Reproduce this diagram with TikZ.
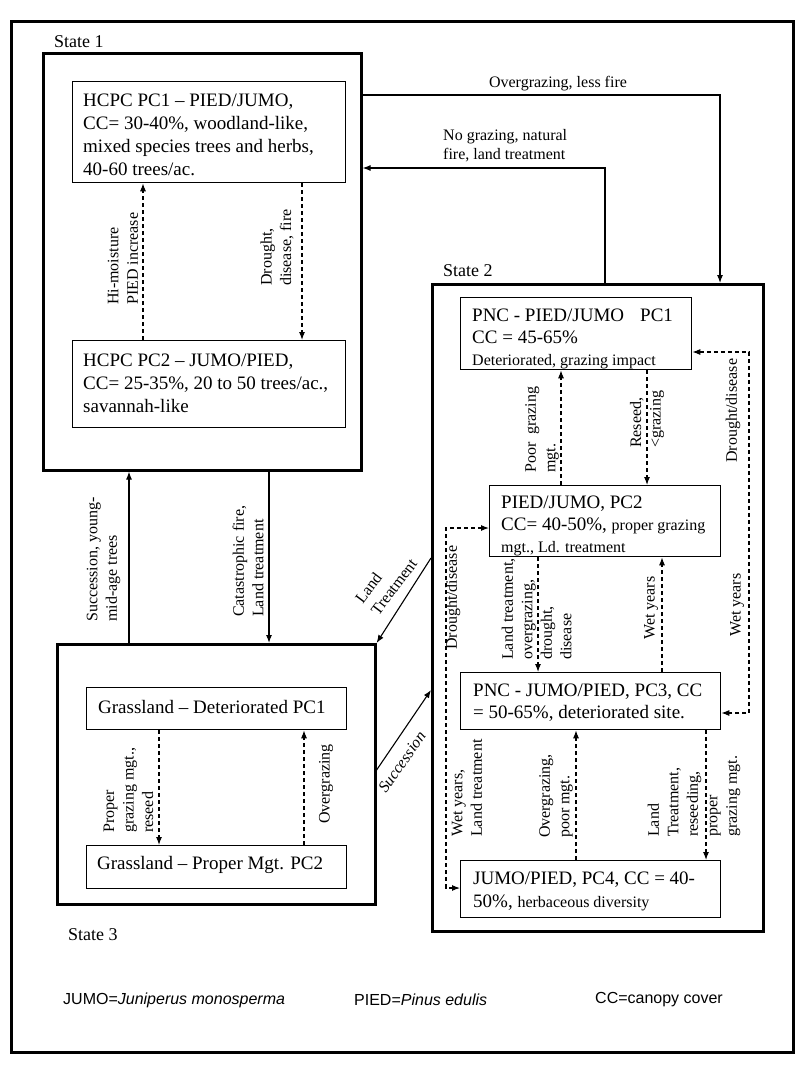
\documentclass[tikz,border=0pt]{standalone}
\usepackage{fontspec}
\setmainfont{Liberation Serif}
\setsansfont{Liberation Sans}
\usetikzlibrary{arrows.meta}
\begin{document}
\begin{tikzpicture}[x=1pt,y=-1pt,
  >={Latex[length=8pt,width=6pt]},
  box/.style={draw,line width=1.3pt,rectangle,inner sep=0pt,anchor=north west},
  statebox/.style={draw,line width=2.6pt,rectangle,inner sep=0pt,anchor=north west},
  btxt/.style={inner sep=0pt,align=left,anchor=west,font=\fontsize{19}{23}\selectfont},
  lbl/.style={inner sep=0pt,align=left,font=\fontsize{16}{19.5}\selectfont},
  vlbl/.style={lbl,rotate=90,anchor=west},
  conn/.style={line width=1.1pt,->},
  dconn/.style={conn,dash pattern=on 4pt off 3pt},
  dbl/.style={line width=1.1pt,dash pattern=on 4pt off 3pt,<->},
  statelbl/.style={inner sep=0pt,anchor=west,font=\fontsize{18}{22}\selectfont},
  legend/.style={inner sep=0pt,anchor=west,font=\sffamily\fontsize{16}{19}\selectfont}
]
\newcommand{\sm}{\fontsize{16}{19}\selectfont}
\useasboundingbox (0,0) rectangle (800,1068);
% outer frame
\node[draw,line width=3pt,rectangle,inner sep=0pt,anchor=north west,minimum width=782pt,minimum height=1031pt] (frame) at (10,20) {};
% state boxes
\node[statebox,minimum width=318pt,minimum height=417pt] (s1) at (42,52) {};
\node[statebox,minimum width=331pt,minimum height=647pt] (s2) at (431,283) {};
\node[statebox,minimum width=318pt,minimum height=260pt] (s3) at (56,643) {};
\node[statelbl] (s1l) at (54,42) {State 1};
\node[statelbl] (s2l) at (443,271) {State 2};
\node[statelbl] (s3l) at (68,935) {State 3};
% community boxes
\node[box,minimum width=273pt,minimum height=101pt] (hc1) at (72,81) {};
\node[box,minimum width=273pt,minimum height=87pt] (hc2) at (72,340) {};
\node[box,minimum width=231pt,minimum height=72pt] (p1) at (460,297) {};
\node[box,minimum width=231pt,minimum height=71pt] (p2) at (489,485) {};
\node[box,minimum width=260pt,minimum height=57pt] (p3) at (460,672) {};
\node[box,minimum width=260pt,minimum height=57pt] (p4) at (460,860) {};
\node[box,minimum width=260pt,minimum height=42pt] (g1) at (86,687) {};
\node[box,minimum width=260pt,minimum height=43pt] (g2) at (86,845) {};
% box texts
\node[btxt] (hc1t) at (83,135) {HCPC PC1 – PIED/JUMO,\\CC= 30-40\%, woodland-like,\\mixed species trees and herbs,\\40-60 trees/ac.};
\node[btxt] (hc2t) at (83,383) {HCPC PC2 – JUMO/PIED,\\CC= 25-35\%, 20 to 50 trees/ac.,\\savannah-like};
\node[btxt,font=\fontsize{19}{22}\selectfont] (p1t) at (472,339) {PNC - PIED/JUMO\hspace{16pt}PC1\\CC = 45-65\%\\{\sm Deteriorated, grazing impact}};
\node[btxt,font=\fontsize{19}{22}\selectfont] (p2t) at (501,526) {PIED/JUMO, PC2\\CC= 40-50\%, {\sm proper grazing}\\{\sm mgt., Ld. treatment}};
\node[btxt,font=\fontsize{19}{22}\selectfont] (p3t) at (473,703) {PNC - JUMO/PIED, PC3, CC\\= 50-65\%, deteriorated site.};
\node[btxt] (p4t) at (473,891) {JUMO/PIED, PC4, CC = 40-\\50\%, {\sm herbaceous diversity}};
\node[btxt] (g1t) at (98,707) {Grassland – Deteriorated PC1};
\node[btxt] (g2t) at (97,865) {Grassland – Proper Mgt. PC2};
% helper coordinates
\foreach \x in {103,129,143,159,269,302,304,446,538,561,576,605,647,662,706,720,749}
  \coordinate (c\x) at (\x,0);
\foreach \y in {95,168,352,528,558,690,713,770,888}
  \coordinate (r\y) at (0,\y);
% state 1 internal
\draw[dconn] (hc2.north -| c143) -- (hc1.south -| c143);
\draw[dconn] (hc1.south -| c302) -- (hc2.north -| c302);
% between states
\draw[conn] (s3.north -| c129) -- (s1.south -| c129);
\draw[conn] (s1.south -| c269) -- (s3.north -| c269);
\draw[conn] (s1.east |- r95) -| (s2.north -| c720);
\draw[conn] (s2.north -| c605) |- (s1.east |- r168);
\draw[conn] (s2.west |- r558) -- (s3.north east);
\draw[conn] (s3.east |- r770) -- (s2.west |- r690);
% state 2 internal
\draw[dconn] (p2.north -| c561) -- (p1.south -| c561);
\draw[dconn] (p1.south -| c647) -- (p2.north -| c647);
\draw[dbl] (p1.east |- r352) -| (c749 |- r713) -- (p3.east |- r713);
\draw[dconn] (p2.south -| c538) -- (p3.north -| c538);
\draw[dconn] (p3.north -| c662) -- (p2.south -| c662);
\draw[dbl] (p2.west |- r528) -| (c446 |- r888) -- (p4.west |- r888);
\draw[dconn] (p4.north -| c576) -- (p3.south -| c576);
\draw[dconn] (p3.south -| c706) -- (p4.north -| c706);
% state 3 internal
\draw[dconn] (g1.south -| c159) -- (g2.north -| c159);
\draw[dconn] (g2.north -| c304) -- (g1.south -| c304);
% labels
\node[vlbl] (l1) at (123,305) {Hi-moisture\\PIED increase};
\node[vlbl] (l2) at (277,286) {Drought,\\disease, fire};
\node[vlbl] (l3) at (103.5,622) {Succession, young-\\mid-age trees};
\node[vlbl] (l4) at (248,617) {Catastrophic fire,\\Land treatment};
\node[vlbl] (l5) at (128.5,833) {Proper\\grazing mgt.,\\reseed};
\node[vlbl] (l6) at (326,824) {Overgrazing};
\node[vlbl] (l7) at (542,473) {Poor\hspace{8pt}grazing\\mgt.};
\node[vlbl] (l8) at (647,448) {Reseed,\\<grazing};
\node[vlbl] (l9) at (733,463) {Drought/disease};
\node[vlbl] (l10) at (737,637) {Wet years};
\node[vlbl] (l11) at (536.75,660) {Land treatment,\\overgrazing,\\drought,\\disease};
\node[vlbl] (l12) at (651,640) {Wet years};
\node[vlbl] (l13) at (453,650) {Drought/disease};
\node[vlbl] (l14) at (467,837) {Wet years,\\Land treatment};
\node[vlbl] (l15) at (556,838) {Overgrazing,\\poor mgt.};
\node[vlbl] (l16) at (694,837) {Land\\Treatment,\\reseeding,\\proper\\grazing mgt.};
\node[lbl] (l17) at (558,84) {Overgrazing, less fire};
\node[lbl,anchor=west] (l18) at (443,145.5) {No grazing, natural\\fire, land treatment};
\node[lbl,rotate=53] (l19) at (386,581) {Land\\Treatment};
\node[lbl,rotate=55,font=\fontsize{16}{19.5}\selectfont\itshape] (l20) at (402,762) {Succession};
% legend
\node[legend] (lg1) at (63,1000) {JUMO=\textit{Juniperus monosperma}};
\node[legend] (lg2) at (354,1000) {PIED=\textit{Pinus edulis}};
\node[legend] (lg3) at (595,1000) {CC=canopy cover};
\end{tikzpicture}
\end{document}
